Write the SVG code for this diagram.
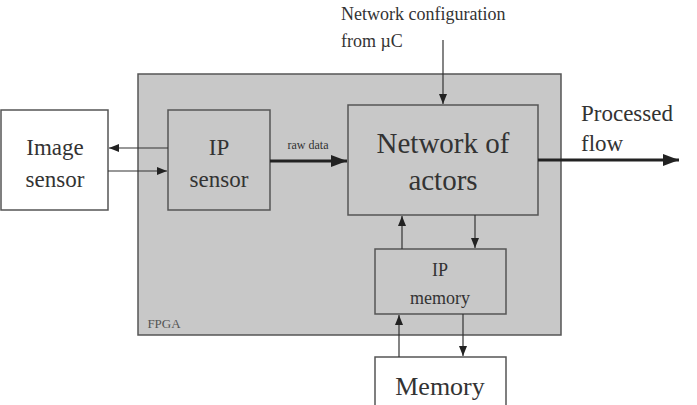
<svg xmlns="http://www.w3.org/2000/svg" width="697" height="405" viewBox="0 0 697 405">
<style>
text{fill:#333;text-anchor:middle}
.box{stroke:#555;stroke-width:1.5}
.g{fill:#c8c8c8}
.w{fill:#fff}
.ln{stroke:#333;stroke-width:1.2;fill:none}
.thick{stroke:#222;stroke-width:3;fill:none}
</style>
<defs>
<marker id="a" markerWidth="10" markerHeight="8" refX="10" refY="4" orient="auto" markerUnits="userSpaceOnUse"><path d="M0,0 L10,4 L0,8 Z" fill="#222"/></marker>
<marker id="b" markerWidth="16" markerHeight="12" refX="16" refY="6" orient="auto" markerUnits="userSpaceOnUse"><path d="M0,0 L16,6 L0,12 Z" fill="#222"/></marker>
</defs>
<g font-family="Liberation Serif, serif">
<g id="fpga"><rect class="box g" x="138" y="74" width="423" height="261"/><text x="164" y="328" font-size="13" style="fill:#555">FPGA</text></g>
<g id="image-sensor"><rect class="box w" x="1" y="110" width="107" height="100"/><text x="55" y="155" font-size="23">Image</text><text x="55" y="187" font-size="23">sensor</text></g>
<g id="ip-sensor"><rect class="box g" x="168" y="110" width="102" height="100"/><text x="219" y="155" font-size="23">IP</text><text x="219" y="187" font-size="23">sensor</text></g>
<g id="network"><rect class="box g" x="348" y="105" width="190" height="110"/><text x="443" y="153" font-size="29">Network of</text><text x="443" y="190" font-size="29">actors</text></g>
<g id="ip-memory"><rect class="box g" x="375" y="249" width="131" height="65"/><text x="440" y="276" font-size="18">IP</text><text x="440" y="304" font-size="18">memory</text></g>
<g id="memory"><rect class="box w" x="375" y="357" width="131" height="60"/><text x="440" y="395" font-size="26">Memory</text></g>
<g id="labels">
<text x="341" y="20" font-size="18" style="text-anchor:start">Network configuration</text>
<text x="341" y="47" font-size="18" style="text-anchor:start">from µC</text>
<text x="581" y="121" font-size="23" style="text-anchor:start">Processed</text>
<text x="581" y="151" font-size="23" style="text-anchor:start">flow</text>
<text x="308" y="149" font-size="12">raw data</text>
</g>
</g>
<g id="connectors">
<line class="ln" x1="168" y1="148" x2="109" y2="148" marker-end="url(#a)"/>
<line class="ln" x1="108" y1="171" x2="167" y2="171" marker-end="url(#a)"/>
<line class="thick" x1="270" y1="161" x2="347" y2="161" marker-end="url(#b)"/>
<line class="ln" x1="443" y1="40" x2="443" y2="104" marker-end="url(#a)"/>
<line class="thick" x1="538" y1="160" x2="679" y2="160" marker-end="url(#b)"/>
<line class="ln" x1="402" y1="249" x2="402" y2="216" marker-end="url(#a)"/>
<line class="ln" x1="475" y1="215" x2="475" y2="248" marker-end="url(#a)"/>
<line class="ln" x1="399" y1="357" x2="399" y2="315" marker-end="url(#a)"/>
<line class="ln" x1="463" y1="314" x2="463" y2="356" marker-end="url(#a)"/>
</g>
</svg>
